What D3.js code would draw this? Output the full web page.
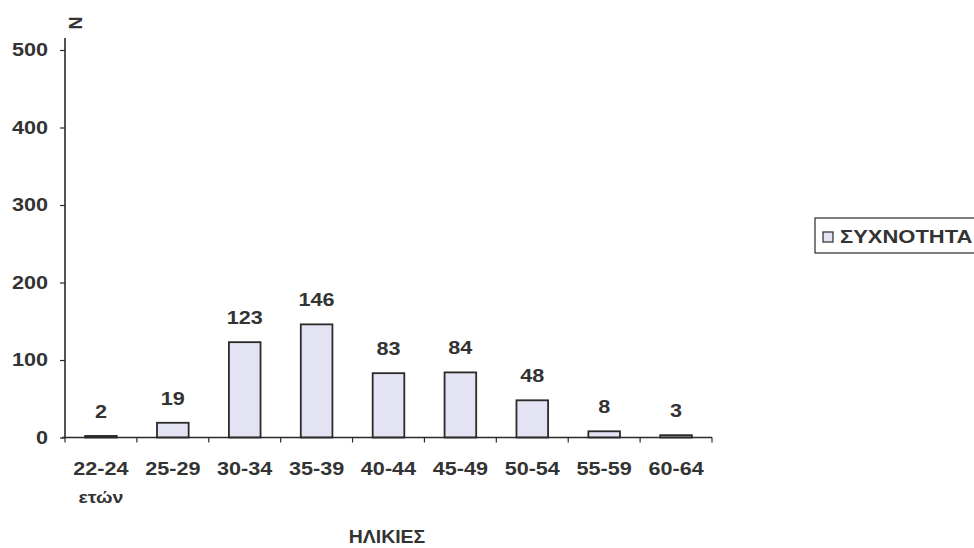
<!DOCTYPE html>
<html>
<head>
<meta charset="utf-8">
<script src="https://cdn.jsdelivr.net/npm/d3@7"></script>
<style>
  html, body { margin: 0; padding: 0; background: #fff; }
  svg text { font-family: Arial, "Liberation Sans", sans-serif; font-weight: bold; fill: #333; }
</style>
</head>
<body>
<svg id="chart" width="974" height="548"></svg>
<script>
// Age groups and their frequencies
const categories = ["22-24", "25-29", "30-34", "35-39", "40-44", "45-49", "50-54", "55-59", "60-64"];
const frequencies = [2, 19, 123, 146, 83, 84, 48, 8, 3];
const yTicks = [0, 100, 200, 300, 400, 500];
const seriesName = "ΣΥΧΝΟΤΗΤΑ";
const xTitle = "ΗΛΙΚΙΕΣ";
const yTitle = "N";
const firstCategoryNote = "ετών";

const FONT = 18;
const WIDEN = 1.2;   // text is set slightly wide
const BAR_FILL = "#e3e3f3";
const INK = "#2a2a2a";

const svg = d3.select("#chart");
const plot = { left: 65, right: 712, top: 50, bottom: 437.5 };

// widen a text selection horizontally
function widen(sel, f = WIDEN) {
  sel.each(function () {
    const len = this.getComputedTextLength();
    d3.select(this).attr("textLength", len * f).attr("lengthAdjust", "spacingAndGlyphs");
  });
  return sel;
}

const x = d3.scaleBand()
  .domain(categories)
  .range([plot.left, plot.right])
  .paddingInner(0.56)
  .paddingOuter(0.28);

const y = d3.scaleLinear()
  .domain([0, 500])
  .range([plot.bottom, plot.top]);

// Bars
svg.append("g")
  .selectAll("rect")
  .data(frequencies)
  .join("rect")
  .attr("x", (d, i) => x(categories[i]))
  .attr("y", d => y(d))
  .attr("width", x.bandwidth())
  .attr("height", d => plot.bottom - y(d))
  .attr("fill", BAR_FILL)
  .attr("stroke", INK)
  .attr("stroke-width", 1.8);

// Value labels
svg.append("g")
  .selectAll("text")
  .data(frequencies)
  .join("text")
  .attr("x", (d, i) => x(categories[i]) + x.bandwidth() / 2)
  .attr("y", d => y(d) - 18)
  .attr("text-anchor", "middle")
  .attr("font-size", FONT)
  .text(d => d)
  .call(widen);

// Y axis
const yAxis = svg.append("g")
  .attr("transform", `translate(${plot.left},0)`)
  .call(d3.axisLeft(y).tickValues(yTicks).tickSize(5).tickPadding(12));
yAxis.select(".domain").remove();
yAxis.append("line")
  .attr("x1", 0).attr("x2", 0)
  .attr("y1", plot.bottom).attr("y2", plot.top - 12)
  .attr("stroke", INK).attr("stroke-width", 1.6);
yAxis.selectAll(".tick line").attr("stroke", INK).attr("stroke-width", 1.2);
yAxis.selectAll(".tick text")
  .attr("font-size", FONT)
  .attr("font-family", "Arial, 'Liberation Sans', sans-serif")
  .attr("font-weight", "bold")
  .attr("fill", "#333")
  .call(widen);

// X axis with tick marks between categories
const xEdge = d3.scaleLinear().domain([0, categories.length]).range([plot.left, plot.right]);
const xAxisG = svg.append("g");
xAxisG.append("line")
  .attr("x1", plot.left - 3).attr("x2", plot.right)
  .attr("y1", plot.bottom).attr("y2", plot.bottom)
  .attr("stroke", INK).attr("stroke-width", 1.6);
xAxisG.selectAll("line.tk")
  .data(d3.range(categories.length + 1))
  .join("line")
  .attr("class", "tk")
  .attr("x1", d => xEdge(d)).attr("x2", d => xEdge(d))
  .attr("y1", plot.bottom).attr("y2", plot.bottom + 5)
  .attr("stroke", INK).attr("stroke-width", 1.2);

xAxisG.selectAll("text.cat")
  .data(categories)
  .join("text")
  .attr("class", "cat")
  .attr("x", d => x(d) + x.bandwidth() / 2)
  .attr("y", 475)
  .attr("text-anchor", "middle")
  .attr("font-size", FONT)
  .text(d => d)
  .call(widen);

svg.append("text")
  .attr("x", x(categories[0]) + x.bandwidth() / 2)
  .attr("y", 503)
  .attr("text-anchor", "middle")
  .attr("font-size", 17)
  .text(firstCategoryNote)
  .call(widen, 1.15);

// Axis titles
svg.append("text")
  .attr("x", 387)
  .attr("y", 543)
  .attr("text-anchor", "middle")
  .attr("font-size", FONT)
  .text(xTitle)
  .call(widen, 1.08);

svg.append("text")
  .attr("transform", "translate(76,23) rotate(-90)")
  .attr("text-anchor", "middle")
  .attr("dominant-baseline", "central")
  .attr("font-size", FONT)
  .text(yTitle);

// Legend
const legend = svg.append("g").attr("transform", "translate(815,218)");
legend.append("rect")
  .attr("x", 0).attr("y", 0)
  .attr("width", 175).attr("height", 35)
  .attr("fill", "#fff")
  .attr("stroke", INK).attr("stroke-width", 1.2);
legend.append("rect")
  .attr("x", 8).attr("y", 14)
  .attr("width", 10).attr("height", 10)
  .attr("fill", BAR_FILL)
  .attr("stroke", INK).attr("stroke-width", 1.2);
legend.append("text")
  .attr("x", 25).attr("y", 25)
  .attr("font-size", FONT)
  .text(seriesName)
  .call(widen, 1.22);
</script>
</body>
</html>
